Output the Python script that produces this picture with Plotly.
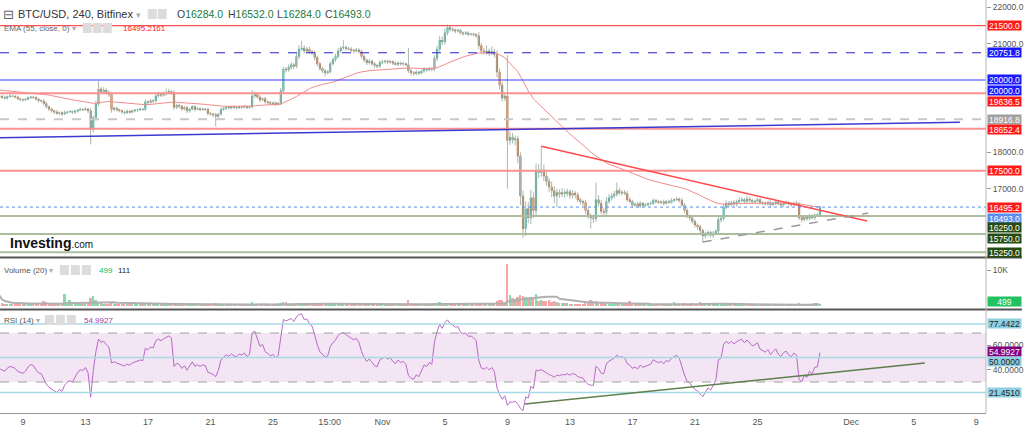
import plotly.graph_objects as go
import pandas as pd

# ---------------- data ----------------
first_open = 19560
closes = [
    19550, 19520, 19500, 19540, 19560, 19550, 19530, 19480, 19460, 19450,
    19470, 19510, 19530, 19520, 19470, 19430, 19420, 19350, 19260, 19200,
    19150, 19120, 19080, 19100, 19060, 19100, 19120, 19130, 19110, 19140,
    19170, 19190, 19180, 19200, 19150, 18640, 18960, 19340, 19750, 19680,
    19720, 19650, 19600, 19190, 19220, 19180, 19150, 19120, 19100, 19140,
    19110, 19150, 19170, 19180, 19200, 19190, 19400, 19380, 19430, 19420,
    19560, 19600, 19580, 19620, 19650, 19680, 19660, 19250, 19300, 19280,
    19200, 19240, 19150, 19200, 19270, 19190, 19210, 19180, 19200, 19190,
    19080, 19060, 19040, 19000, 19060, 19180, 19220, 19250, 19230, 19260,
    19240, 19230, 19260, 19250, 19270, 19240, 19260, 19560, 19600, 19530,
    19450, 19480, 19400, 19380, 19350, 19370, 19330, 19360, 19700, 20300,
    20280, 20350, 20420, 20380, 20650, 20850, 20880, 20800, 20850, 20780,
    20750, 20620, 20450, 20320, 20250, 20200, 20230, 20450, 20560, 20650,
    20800, 20880, 20900, 20870, 20850, 20820, 20800, 20830, 20780, 20650,
    20550, 20480, 20520, 20450, 20400, 20380, 20480, 20500, 20520, 20490,
    20510, 20460, 20430, 20470, 20440, 20450, 20420, 20250, 20200, 20180,
    20220, 20190, 20250, 20300, 20280, 20320, 20300, 20600, 20850, 21100,
    21050, 21300, 21450, 21400, 21380, 21350, 21370, 21300, 21280, 21300,
    21260, 21270, 21250, 21220, 20950, 20800, 20770, 20800, 20750, 20780,
    20700, 20220, 19860, 19500, 19560, 18330, 18420, 18350, 18380, 17900,
    16800, 15900, 16450, 16200, 16750, 16400, 17500, 17450, 17520, 17350,
    17200, 17050, 16950, 16800, 16900, 16850, 16900, 16870, 16920, 16820,
    16880, 16830, 16700, 16650, 16620, 16400, 16250, 16200, 16180, 16700,
    16600, 16380, 16350, 16650, 16750, 16800, 16850, 16950, 16880, 16900,
    16870, 16700, 16650, 16550, 16580, 16520, 16600, 16540, 16560, 16590,
    16600, 16680, 16650, 16620, 16640, 16600, 16650, 16630, 16680, 16700,
    16720, 16680, 16550, 16400, 16250, 16200, 16100, 16000, 15950, 15850,
    15700, 15750, 15800, 15720, 15780, 15830, 16150, 16180, 16500, 16600,
    16560, 16620, 16580, 16640, 16680, 16700, 16650, 16720, 16680, 16640,
    16660, 16700, 16620, 16600, 16580, 16620, 16560, 16600, 16640, 16580,
    16550, 16600, 16620, 16580, 16560, 16600, 16580, 16200, 16150, 16220,
    16180, 16250, 16200, 16280, 16284, 16493,
]
upper_wicks = [
    40, 30, 50, 30, 40, 20, 30, 40, 30, 20,
    30, 40, 30, 20, 30, 40, 30, 50, 60, 40,
    40, 30, 50, 30, 40, 60, 30, 40, 30, 40,
    30, 40, 30, 50, 40, 80, 60, 90, 220, 60,
    80, 50, 60, 70, 50, 40, 30, 40, 30, 50,
    30, 40, 30, 30, 40, 30, 60, 40, 50, 30,
    50, 80, 40, 60, 110, 80, 40, 60, 50, 40,
    30, 40, 50, 30, 40, 30, 40, 30, 40, 30,
    40, 30, 40, 50, 30, 60, 40, 30, 40, 30,
    30, 40, 30, 30, 40, 30, 40, 160, 90, 50,
    60, 40, 50, 30, 40, 30, 40, 30, 80, 70,
    60, 80, 70, 50, 90, 110, 200, 80, 60, 70,
    50, 60, 50, 40, 50, 60, 40, 60, 50, 70,
    80, 60, 200, 50, 40, 60, 40, 50, 40, 60,
    50, 40, 60, 40, 50, 40, 60, 50, 40, 50,
    40, 30, 50, 40, 30, 40, 30, 470, 60, 40,
    50, 30, 40, 60, 40, 50, 40, 80, 90, 120,
    100, 120, 80, 60, 50, 40, 50, 40, 30, 50,
    40, 30, 40, 50, 100, 80, 90, 150, 70, 150,
    80, 120, 100, 90, 80, 1130, 150, 120, 90, 80,
    100, 150, 200, 180, 220, 150, 200, 180, 650, 150,
    120, 100, 150, 120, 100, 80, 120, 90, 80, 60,
    80, 60, 70, 60, 50, 80, 60, 70, 90, 470,
    120, 90, 80, 120, 100, 80, 90, 220, 80, 70,
    60, 70, 60, 50, 40, 60, 50, 40, 50, 40,
    50, 60, 40, 50, 40, 60, 40, 50, 60, 40,
    50, 40, 60, 50, 60, 40, 50, 60, 50, 60,
    50, 60, 50, 40, 60, 50, 80, 70, 90, 80,
    60, 50, 70, 60, 80, 60, 50, 90, 60, 50,
    40, 60, 50, 40, 50, 40, 50, 40, 50, 40,
    50, 40, 60, 40, 50, 40, 60, 50, 60, 50,
    40, 60, 50, 40, 50, 39,
]
lower_wicks = [
    30, 40, 30, 40, 20, 30, 40, 30, 50, 40,
    30, 20, 30, 40, 30, 50, 40, 60, 50, 60,
    50, 60, 40, 50, 60, 30, 40, 30, 50, 40,
    40, 30, 40, 30, 60, 420, 90, 80, 60, 70,
    60, 50, 70, 90, 60, 50, 40, 50, 60, 40,
    40, 30, 40, 50, 30, 40, 50, 40, 30, 50,
    40, 50, 60, 40, 50, 40, 60, 80, 50, 60,
    50, 40, 60, 50, 40, 60, 30, 40, 30, 40,
    60, 50, 70, 280, 50, 40, 30, 40, 30, 40,
    30, 40, 30, 40, 30, 40, 30, 40, 60, 50,
    60, 40, 50, 60, 40, 50, 60, 40, 50, 80,
    70, 50, 60, 80, 60, 70, 50, 60, 70, 50,
    60, 80, 70, 60, 60, 100, 50, 60, 50, 60,
    50, 60, 50, 60, 40, 50, 60, 40, 50, 60,
    60, 70, 50, 60, 80, 60, 50, 40, 50, 60,
    40, 50, 40, 50, 40, 50, 40, 60, 80, 60,
    50, 60, 40, 50, 60, 40, 50, 60, 80, 70,
    90, 80, 70, 60, 50, 60, 40, 50, 60, 40,
    50, 40, 50, 60, 100, 90, 80, 70, 90, 60,
    80, 150, 120, 100, 80, 1330, 120, 100, 150, 200,
    250, 250, 200, 150, 180, 200, 150, 150, 120, 130,
    120, 150, 180, 200, 300, 100, 90, 120, 80, 100,
    80, 90, 70, 80, 90, 100, 90, 300, 120, 100,
    90, 80, 100, 70, 60, 80, 70, 60, 50, 60,
    50, 60, 50, 60, 50, 40, 50, 60, 40, 50,
    40, 50, 60, 40, 50, 60, 40, 50, 40, 50,
    40, 60, 50, 70, 60, 80, 60, 70, 80, 90,
    170, 80, 70, 60, 80, 60, 70, 80, 60, 70,
    60, 50, 60, 70, 50, 60, 50, 40, 60, 50,
    50, 40, 60, 50, 40, 50, 60, 40, 50, 40,
    40, 50, 40, 60, 50, 40, 50, 60, 80, 50,
    60, 50, 40, 60, 50, 0,
]
volumes = [
    2800, 600, 400, 300, 350, 250, 300, 400, 350, 300,
    250, 300, 280, 220, 400, 500, 450, 1300, 900, 700,
    600, 500, 400, 350, 450, 3200, 800, 1600, 400, 300,
    350, 300, 250, 300, 600, 2000, 2700, 1600, 1000, 700,
    500, 450, 400, 900, 500, 400, 350, 300, 350, 300,
    250, 300, 280, 250, 300, 260, 700, 400, 500, 350,
    600, 500, 400, 350, 400, 300, 350, 800, 400, 350,
    300, 280, 350, 250, 300, 260, 240, 230, 250, 220,
    350, 300, 330, 600, 300, 350, 250, 240, 220, 230,
    210, 200, 230, 220, 210, 200, 220, 1100, 500, 350,
    400, 300, 280, 260, 300, 250, 260, 240, 600, 1000,
    900, 500, 400, 350, 800, 600, 700, 450, 400, 380,
    350, 400, 500, 450, 400, 500, 350, 450, 400, 500,
    600, 500, 700, 400, 350, 300, 320, 280, 300, 400,
    350, 300, 280, 300, 350, 320, 300, 260, 250, 240,
    230, 250, 240, 220, 230, 210, 220, 1600, 500, 350,
    300, 280, 260, 250, 270, 240, 230, 600, 800, 1100,
    700, 600, 500, 400, 350, 300, 280, 260, 250, 270,
    240, 230, 250, 300, 600, 500, 400, 450, 350, 380,
    500, 1200, 1500, 1600, 900, 11700, 3000, 2200, 1800, 2500,
    3000, 2800, 2500, 1900, 2400, 2000, 3200, 1400, 1600, 1300,
    1200, 1500, 1000, 1300, 900, 800, 700, 600, 650, 500,
    450, 400, 500, 450, 400, 800, 900, 1500, 1200, 1400,
    800, 700, 600, 500, 450, 400, 350, 500, 400, 350,
    300, 400, 1300, 600, 400, 350, 300, 280, 260, 250,
    240, 400, 300, 280, 260, 240, 250, 230, 220, 900,
    300, 280, 400, 600, 500, 450, 700, 500, 400, 1000,
    800, 500, 400, 350, 300, 280, 600, 400, 700, 400,
    300, 280, 260, 250, 300, 280, 260, 240, 250, 230,
    220, 240, 210, 200, 220, 210, 200, 190, 210, 200,
    190, 200, 210, 190, 180, 200, 190, 600, 400, 300,
    280, 300, 250, 600, 700, 499,
]
ema_seed = 19730
rsi_seed_gain, rsi_seed_loss = 35.0, 50.0

# horizontal levels drawn on the price pane
red_levels = [21500.0, 19636.5, 18652.4, 17500.0]
blue_solid_level = 20000.0
blue_dashed_level = 20751.8
gray_dashed_level = 18916.8
green_levels = [16250.0, 15750.0, 15250.0]
last_price = 16495.2
# trend lines (time, value)
blue_trend = (("2022-10-07 12:00", 18410), ("2022-12-07 23:00", 18835))
red_trend = (("2022-11-11 04:00", 18170), ("2022-12-02 00:30", 16110))
gray_trend = (("2022-11-21 12:00", 15530), ("2022-12-02 02:00", 16330))
rsi_trend = (("2022-11-10 03:00", 12.0), ("2022-12-05 17:00", 45.5))
rsi_levels = [77.4422, 50.0, 21.451]

tick_dates = ["2022-10-09", "2022-10-13", "2022-10-17", "2022-10-21", "2022-10-25",
              "2022-10-28 15:00", "2022-11-01", "2022-11-05", "2022-11-09", "2022-11-13",
              "2022-11-17", "2022-11-21", "2022-11-25", "2022-12-01", "2022-12-05", "2022-12-09"]
tick_labels = ["9", "13", "17", "21", "25", "15:00", "Nov", "5", "9", "13", "17", "21", "25",
               "Dec", "5", "9"]

# ---------------- derived ----------------
times = pd.date_range("2022-10-07 12:00", periods=len(closes), freq="4h")
opens = [first_open] + closes[:-1]
body_hi = [max(o, c) for o, c in zip(opens, closes)]
body_lo = [min(o, c) for o, c in zip(opens, closes)]
highs = [b + u for b, u in zip(body_hi, upper_wicks)]
lows = [b - l for b, l in zip(body_lo, lower_wicks)]

ema = []
prev = ema_seed
alpha = 2 / 56
for c in closes:
    prev = prev + alpha * (c - prev)
    ema.append(prev)

rsi = []
ag, al = rsi_seed_gain, rsi_seed_loss
pc = first_open
for c in closes:
    ch = c - pc
    ag = (ag * 13 + max(ch, 0)) / 14
    al = (al * 13 + max(-ch, 0)) / 14
    rsi.append(100 - 100 / (1 + ag / al))
    pc = c

vol_ma = pd.Series(volumes).rolling(20, min_periods=1).mean().tolist()

UP = "#1f9c87"
DN = "#a3531c"
WICK = "#a9b8ae"

# ---------------- figure ----------------
PW, PH = 988, 413


def xp(px):
    return px / PW


def yp(py):
    return 1 - py / PH


fig = go.Figure()

wx, wy = [], []
for t, lo, hi in zip(times, lows, highs):
    wx += [t, t, None]
    wy += [lo, hi, None]
fig.add_trace(go.Scatter(x=wx, y=wy, mode="lines", line=dict(color=WICK, width=1),
                         hoverinfo="skip", xaxis="x", yaxis="y"))
fig.add_trace(go.Candlestick(x=times, open=opens, high=body_hi, low=body_lo, close=closes,
                             increasing=dict(line=dict(color=UP, width=0.6), fillcolor=UP),
                             decreasing=dict(line=dict(color=DN, width=0.6), fillcolor=DN),
                             whiskerwidth=0, xaxis="x", yaxis="y"))
fig.add_trace(go.Scatter(x=times, y=ema, mode="lines", line=dict(color="#f28b8b", width=1),
                         xaxis="x", yaxis="y"))

vcolors = ["#86d9b0" if c >= o else "#f7a3a3" for o, c in zip(opens, closes)]
fig.add_trace(go.Bar(x=times, y=volumes, marker=dict(color=vcolors, line=dict(width=0)),
                     width=4 * 3600 * 1000 * 0.7, xaxis="x2", yaxis="y2"))
fig.add_trace(go.Scatter(x=times, y=vol_ma, mode="lines", line=dict(color="#b0b0b0", width=2),
                         xaxis="x2", yaxis="y2"))
fig.add_trace(go.Scatter(x=times, y=rsi, mode="lines", line=dict(color="#b86ac6", width=1),
                         xaxis="x3", yaxis="y3"))

shapes = []


def hline(y, color, width, dash="solid", yref="y"):
    shapes.append(dict(type="line", xref="paper", x0=0, x1=1, yref=yref, y0=y, y1=y,
                       line=dict(color=color, width=width, dash=dash)))


# RSI band
shapes.append(dict(type="rect", xref="paper", x0=0, x1=1, yref="y3", y0=30, y1=70,
                   fillcolor="#f3e5f3", line=dict(width=0), layer="below"))
hline(70, "#a0a0a0", 1, "dash", "y3")
hline(30, "#a0a0a0", 1, "dash", "y3")
for lv in rsi_levels:
    hline(lv, "#a6d9e6", 1.5, "solid", "y3")

hline(red_levels[0], "#ff5050", 1.3)
for lv in red_levels[1:]:
    hline(lv, "#ff9090", 2)
hline(blue_solid_level, "#3b3bff", 1.2)
hline(blue_dashed_level, "#2424d0", 1.2, "dash")
hline(gray_dashed_level, "#c8c8c8", 2, "dash")
for lv in green_levels:
    hline(lv, "#adbb9e", 2)
hline(last_price, "#5b8def", 1, "dot")


def seg(tr, color, width, dash="solid", yref="y", xref="x"):
    (x0, y0), (x1, y1) = tr
    shapes.append(dict(type="line", xref=xref, yref=yref, x0=x0, y0=y0, x1=x1, y1=y1,
                       line=dict(color=color, width=width, dash=dash)))


seg(blue_trend, "#3a3ad0", 1.5)
seg(red_trend, "#ff4a4a", 1.5)
seg(gray_trend, "#9a9a9a", 1.5, "dash")
seg(rsi_trend, "#5f7f4f", 1.6, "solid", "y3", "x3")

# separators
for py in (257.5, 309.5):
    shapes.append(dict(type="line", xref="paper", yref="paper", x0=0, x1=1024 / PW,
                       y0=yp(py), y1=yp(py), line=dict(color="#555555", width=2)))
shapes.append(dict(type="line", xref="paper", yref="paper", x0=1, x1=1, y0=0, y1=1,
                   line=dict(color="#b8b8b8", width=1)))

# legend icons
icon_boxes = [(148, 9), (158, 9), (83, 23), (93, 23), (103, 23),
              (60, 265), (71, 265), (82, 265), (45, 315), (56, 315), (67, 315)]
for bx, by in icon_boxes:
    shapes.append(dict(type="rect", xref="paper", yref="paper", x0=xp(bx), x1=xp(bx + 9),
                       y0=yp(by + 10), y1=yp(by), fillcolor="#dcdcdc", line=dict(width=0)))

ann = []


def label(text, y, bg, fg="white", yref="y", yshift=0):
    ann.append(dict(text=text, xref="paper", x=1, xanchor="left", xshift=1, yref=yref, y=y,
                    yanchor="middle", yshift=yshift, showarrow=False, bgcolor=bg,
                    font=dict(size=8.5, color=fg, family="Liberation Sans"), width=33, height=9,
                    borderpad=0, align="center"))


label("21500.0", 21500.0, "#ff1a1a")
label("20751.8", 20751.8, "#1a1aff")
label("20000.0", 20000.0, "#1a1aff")
label("20000.0", 20000.0, "#1a1aff", yshift=-11)
label("19636.5", 19636.5, "#ff1a1a", yshift=-8)
label("18916.8", 18916.8, "#a0a0a0")
label("18652.4", 18652.4, "#ff1a1a", yshift=-1)
label("17500.0", 17500.0, "#ff1a1a")
label("16495.2", last_price, "#ff1a1a")
label("16493.0", closes[-1], "#5b8def", yshift=-11)
label("16250.0", 16250.0, "#254a12", yshift=-12)
label("15750.0", 15750.0, "#254a12", yshift=-4)
label("15250.0", 15250.0, "#254a12")
label("499", volumes[-1], "#22c260", yref="y2", yshift=2)
label("77.4422", 77.4422, "#8fd0e0", "#222", yref="y3")
label("54.9927", rsi[-1] if False else 54.9927, "#800080", yref="y3")
label("50.0000", 50.0, "#8fd0e0", "#222", yref="y3", yshift=-4)
label("21.4510", 21.451, "#8fd0e0", "#222", yref="y3")


def text(t, px, py, size=10, color="#333", family="Liberation Sans"):
    ann.append(dict(text=t, xref="paper", yref="paper", x=xp(px), y=yp(py), xanchor="left",
                    yanchor="middle", showarrow=False, font=dict(size=size, color=color,
                                                                 family=family)))


G = "#207a3c"
text("⊟", 1, 14, 13, "#666", "DejaVu Sans")
text("BTC/USD, 240, Bitfinex <span style='color:#aaa;font-size:9px'>▾</span>", 16, 14, 11, "#333")
text("O<span style='color:%s'>16284.0</span>" % G, 175, 14, 10.5, "#444")
text("H<span style='color:%s'>16532.0</span>" % G, 226, 14, 10.5, "#444")
text("L<span style='color:%s'>16284.0</span>" % G, 276, 14, 10.5, "#444")
text("C<span style='color:%s'>16493.0</span>" % G, 324, 14, 10.5, "#444")
text("EMA (55, close, 0) <span style='color:#aaa'>▾</span>", 2, 28, 8, "#666")
text("16495.2161", 121, 28, 8, "#ff2020")
text("Volume (20) <span style='color:#aaa'>▾</span>", 2, 270, 8, "#555")
text("499", 97, 270, 8, "#22b85a")
text("111", 116, 270, 8, "#222")
text("RSI (14) <span style='color:#aaa'>▾</span>", 2, 320, 8, "#555")
text("54.9927", 82, 320, 8, "#a040a8")
text("<b>Investing</b><span style='font-size:10px'>.com</span>", 8, 243, 14, "#111")

axis_font = dict(size=8.5, color="#555", family="Liberation Sans")
common_x = dict(range=["2022-10-07 12:45", "2022-12-09 15:00"], showgrid=False, zeroline=False,
                rangeslider=dict(visible=False), showticklabels=False)

fig.update_layout(
    width=1024, height=428, margin=dict(l=0, r=36, t=0, b=15),
    paper_bgcolor="white", plot_bgcolor="white", showlegend=False,
    bargap=0, shapes=shapes, annotations=ann,
    xaxis=dict(domain=[0, 1], anchor="y", **common_x),
    xaxis2=dict(domain=[0, 1], anchor="y2", matches="x", **common_x),
    xaxis3=dict(domain=[0, 1], anchor="y3", matches="x",
                range=common_x["range"], showgrid=False, zeroline=False,
                rangeslider=dict(visible=False),
                tickmode="array", tickvals=tick_dates, ticktext=tick_labels,
                tickfont=dict(size=9, color="#555", family="Liberation Sans Narrow, Liberation Sans"),
                ticks="", showline=True, linecolor="#999", linewidth=1),
    yaxis=dict(domain=[yp(256), 1], range=[15146, 22206], side="right", showgrid=False,
               zeroline=False, tickmode="array", tickvals=[17000, 18000, 21000, 22000],
               ticktext=["17000.0", "18000.0", "21000.0", "22000.0"], tickfont=axis_font,
               ticks="outside", ticklen=4, tickcolor="#999", fixedrange=True),
    yaxis2=dict(domain=[yp(308), yp(259)], range=[-704, 13099], side="right", showgrid=False,
                zeroline=False, tickmode="array", tickvals=[10000], ticktext=["10K"],
                tickfont=axis_font, ticks="outside", ticklen=4, tickcolor="#999"),
    yaxis3=dict(domain=[0, yp(311)], range=[4.69, 87.96], side="right", showgrid=False,
                zeroline=False, tickmode="array", tickvals=[40, 60],
                ticktext=["40.0000", "60.0000"], tickfont=axis_font,
                ticks="outside", ticklen=4, tickcolor="#999"),
)

fig.write_html("out.html")
